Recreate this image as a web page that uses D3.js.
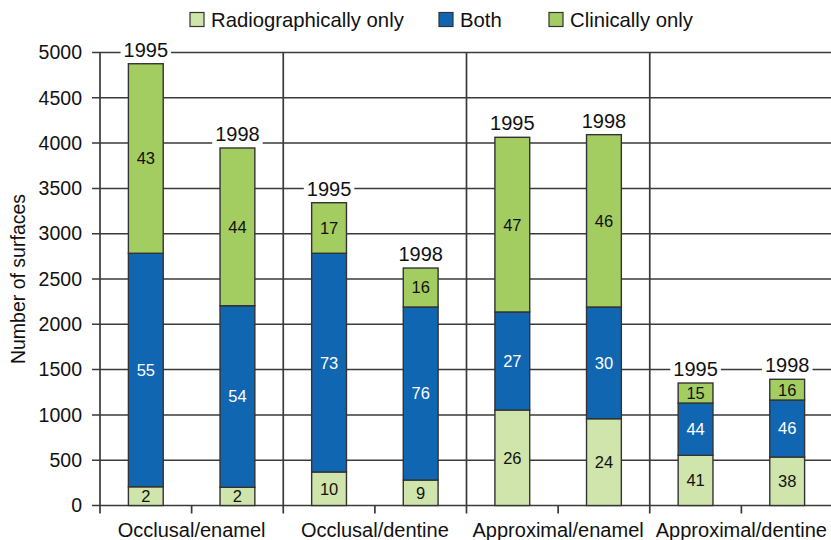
<!DOCTYPE html>
<html>
<head>
<meta charset="utf-8">
<script src="https://cdn.jsdelivr.net/npm/d3@7"></script>
<style>
  html, body { margin: 0; padding: 0; background: #fff; }
  svg { display: block; font-family: "Liberation Sans", Arial, Helvetica, sans-serif; }
</style>
</head>
<body>
<svg id="chart" width="831" height="540"></svg>
<script>
// Carious surfaces by diagnosis method, two survey years per surface type
const categories = ["Occlusal/enamel", "Occlusal/dentine", "Approximal/enamel", "Approximal/dentine"];
const years = ["1995", "1998"];
const seriesNames = ["Radiographically only", "Both", "Clinically only"];

// surface counts, bar order: category × year
const radiographicOnly = [207, 201, 370, 281, 1054, 958, 554, 535];
const both             = [2577, 2004, 2414, 1910, 1082, 1233, 577, 629];
const clinicalOnly     = [2092, 1741, 558, 430, 1928, 1902, 221, 229];

// percentage shares printed inside each segment
const pctRadiographic = [2, 2, 10, 9, 26, 24, 41, 38];
const pctBoth         = [55, 54, 73, 76, 27, 30, 44, 46];
const pctClinical     = [43, 44, 17, 16, 47, 46, 15, 16];

const yTicks = [0, 500, 1000, 1500, 2000, 2500, 3000, 3500, 4000, 4500, 5000];

const colors = ["#cfe5ab", "#1166b2", "#a4cd61"];
const textColors = ["#111", "#fff", "#111"];
const lineColor = "#3a3a3a";

const svg = d3.select("#chart");
const plotLeft = 100, plotRight = 833, plotTop = 52.5, plotBottom = 505.5;

const bars = d3.range(categories.length * years.length);
const x = d3.scaleBand().domain(bars).range([plotLeft, plotRight]).padding(0);
const xCat = d3.scaleBand().domain(categories).range([plotLeft, plotRight]).padding(0);
const y = d3.scaleLinear().domain([0, 5000]).range([plotBottom, plotTop]);

const barW = x.bandwidth() * 0.38;

// horizontal gridlines
const g = svg.append("g");
g.selectAll("line.grid").data(yTicks).join("line")
  .attr("class", "grid")
  .attr("x1", plotLeft - 8).attr("x2", plotRight)
  .attr("y1", d => y(d)).attr("y2", d => y(d))
  .attr("stroke", lineColor).attr("stroke-width", 1.5);

// y axis tick labels
const yAxis = d3.axisLeft(y).tickValues(yTicks).tickSize(0).tickPadding(18).tickFormat(d3.format("d"));
const ya = svg.append("g").attr("transform", `translate(${plotLeft},0)`).call(yAxis);
ya.select(".domain").remove();
ya.selectAll("text").attr("font-size", 19.5).attr("fill", "#111")
  .style("font-family", "'Liberation Sans', Arial, sans-serif");

// vertical axis and category separators
const sepX = [0, 2, 4, 6].map(i => x(i));
g.selectAll("line.sep").data(sepX).join("line")
  .attr("class", "sep")
  .attr("x1", d => d).attr("x2", d => d)
  .attr("y1", y(5000)).attr("y2", plotBottom + 8)
  .attr("stroke", lineColor).attr("stroke-width", 1.7);

// small ticks between the two bars of each category
g.selectAll("line.midtick").data([1, 3, 5, 7].map(i => x(i))).join("line")
  .attr("class", "midtick")
  .attr("x1", d => d).attr("x2", d => d)
  .attr("y1", plotBottom).attr("y2", plotBottom + 8)
  .attr("stroke", lineColor).attr("stroke-width", 1.7);

// stacked data
const pcts = [pctRadiographic, pctBoth, pctClinical];
const rows = bars.map(i => ({ i, r: radiographicOnly[i], b: both[i], c: clinicalOnly[i] }));
const stack = d3.stack().keys(["r", "b", "c"])(rows);

const barG = svg.append("g");
stack.forEach((layer, k) => {
  barG.selectAll(null).data(layer).join("rect")
    .attr("x", d => x(d.data.i) + x.bandwidth() / 2 - barW / 2)
    .attr("width", barW)
    .attr("y", d => y(d[1]))
    .attr("height", d => y(d[0]) - y(d[1]))
    .attr("fill", colors[k])
    .attr("stroke", "#333")
    .attr("stroke-width", 1.4);
});

// percentage labels inside segments
stack.forEach((layer, k) => {
  barG.selectAll(null).data(layer).join("text")
    .attr("x", d => x(d.data.i) + x.bandwidth() / 2)
    .attr("y", d => (y(d[0]) + y(d[1])) / 2)
    .attr("dy", "0.36em")
    .attr("text-anchor", "middle")
    .attr("font-size", 16.5)
    .attr("fill", textColors[k])
    .text(d => pcts[k][d.data.i]);
});

// year labels above each bar, on a white backing so gridlines break around them
const totals = bars.map(i => radiographicOnly[i] + both[i] + clinicalOnly[i]);
const yearG = svg.append("g");
bars.forEach(i => {
  const cx = x(i) + x.bandwidth() / 2;
  const base = y(totals[i]) - 7;
  const t = yearG.append("text")
    .attr("x", cx).attr("y", base)
    .attr("text-anchor", "middle")
    .attr("font-size", 20)
    .attr("fill", "#111")
    .text(years[i % years.length]);
  const bb = t.node().getBBox();
  yearG.insert("rect", "text")
    .attr("x", bb.x - 3).attr("y", base - 16)
    .attr("width", bb.width + 6).attr("height", 19)
    .attr("fill", "#fff");
});

// category labels
svg.append("g").selectAll("text").data(categories).join("text")
  .attr("x", d => xCat(d) + xCat.bandwidth() / 2)
  .attr("y", 537)
  .attr("text-anchor", "middle")
  .attr("font-size", 20)
  .attr("fill", "#111")
  .text(d => d);

// y axis title
svg.append("text")
  .attr("transform", "translate(25,279) rotate(-90)")
  .attr("text-anchor", "middle")
  .attr("font-size", 19.5)
  .attr("fill", "#111")
  .text("Number of surfaces");

// legend
const legendX = [190, 439, 549];
const lg = svg.append("g");
seriesNames.forEach((name, k) => {
  lg.append("rect")
    .attr("x", legendX[k]).attr("y", 12.5)
    .attr("width", 14).attr("height", 14)
    .attr("fill", colors[k]).attr("stroke", "#333").attr("stroke-width", 1.2);
  lg.append("text")
    .attr("x", legendX[k] + 21).attr("y", 26.5)
    .attr("font-size", 20.3)
    .attr("fill", "#111")
    .text(name);
});
</script>
</body>
</html>
